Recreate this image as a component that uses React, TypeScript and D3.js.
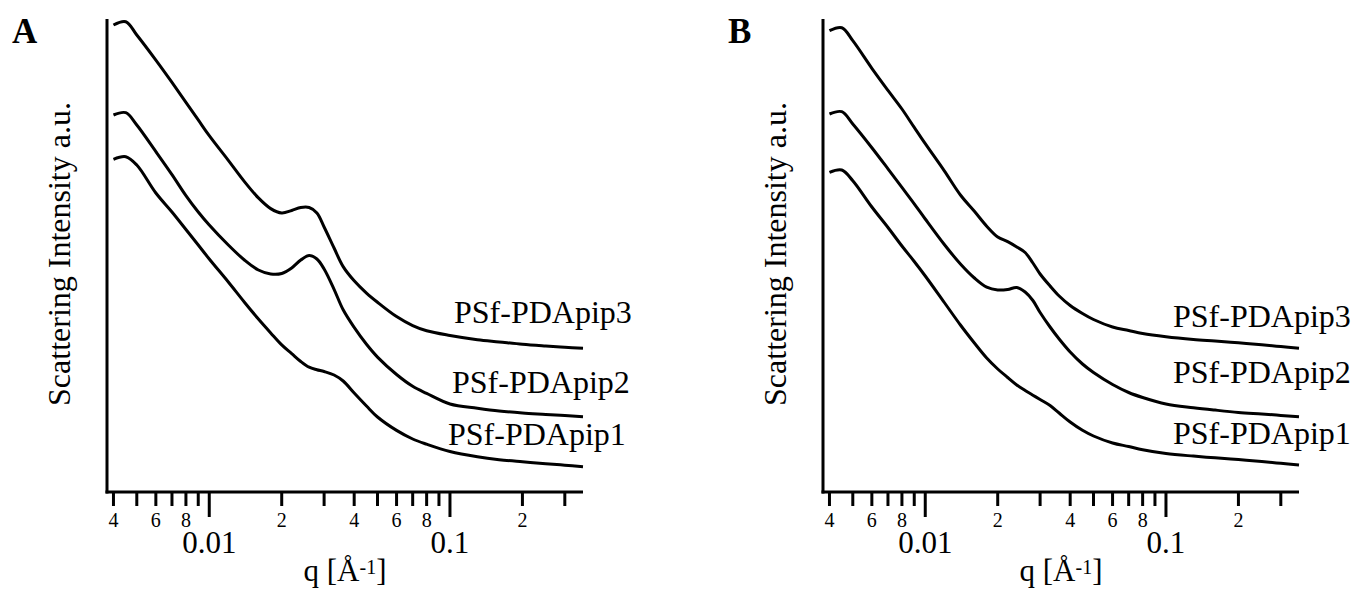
import React from 'react';
import * as d3 from 'd3';

// q grid [1/Å] shared by every curve
const Q = [
  0.004, 0.0045, 0.005, 0.006, 0.007, 0.008, 0.009, 0.01, 0.012, 0.014, 0.016,
  0.018, 0.02, 0.022, 0.024, 0.026, 0.028, 0.03, 0.033, 0.036, 0.04, 0.045,
  0.05, 0.06, 0.07, 0.08, 0.1, 0.13, 0.16, 0.2, 0.25, 0.3, 0.357,
];

// scattering intensity, arbitrary units (curves offset for clarity)
const A_PIP1 = [
  332.7, 335.3, 327, 299, 280, 262.5, 247, 233, 210, 189.8, 173, 159.1,
  147.1, 138.4, 130.5, 124.8, 122.3, 120.5, 117, 111, 99, 86, 75, 61.6,
  53, 47.8, 40.5, 35.2, 32.3, 30.2, 28.3, 26.8, 25.3,
];
const A_PIP2 = [
  377, 379.3, 367, 340.4, 317.4, 296.4, 280, 267, 247, 232, 222, 218,
  218.5, 224, 232, 236.5, 233, 223, 202.7, 182.2, 164.6, 147.7, 134.9, 117.5,
  105.7, 98.6, 88, 83.8, 81, 79, 77.6, 76.4, 75.3,
];
const A_PIP3 = [
  467, 470.3, 457, 431.9, 409.6, 389.7, 372.1, 356.3, 331.6, 310.4, 294.1,
  283.4, 279, 281.5, 284.5, 284.5, 279, 265, 244, 225.4, 211.2, 198.9, 189.7,
  175.4, 166.4, 161.2, 156.5, 152.3, 150.1, 147.7, 146, 144.8, 143.7,
];
const B_PIP1 = [
  319.7, 322, 311.3, 285, 264.5, 246, 230.5, 216, 189.5, 167, 149, 134,
  123, 114.5, 107, 101.5, 96.8, 92.5, 86.5, 79, 70, 61.7, 56, 49, 45.5, 42.3,
  38.5, 35.9, 34.2, 32.5, 30.5, 28.7, 27,
];
const B_PIP2 = [
  378, 380.3, 368, 344.3, 323.2, 304.6, 288.2, 273, 247.5, 228, 214, 204.8,
  202, 202.5, 204.5, 200, 191.5, 179.5, 165, 153, 140, 128, 119.5, 107.5,
  99.5, 94.5, 88, 84.3, 81.9, 79.6, 78, 76.6, 75.3,
];
const B_PIP3 = [
  461.3, 464.3, 451.3, 423.7, 401.6, 383, 364.6, 348.3, 321.1, 297, 280.7,
  265.8, 255, 250.3, 245, 239.5, 229, 218, 206, 196, 186.5, 178.5, 172.5,
  165, 161.5, 158.5, 155.3, 152.6, 151, 149.2, 147.2, 145.4, 143.7,
];

const SERIES_NAMES = ['PSf-PDApip1', 'PSf-PDApip2', 'PSf-PDApip3'];

const MAJOR_TICKS = [0.01, 0.1];
const MAJOR_LABELS = ['0.01', '0.1'];
const MINOR_TICKS = [
  0.004, 0.005, 0.006, 0.007, 0.008, 0.009, 0.02, 0.03, 0.04, 0.05, 0.06,
  0.07, 0.08, 0.09, 0.2, 0.3,
];
const MINOR_LABEL_TICKS = [0.004, 0.006, 0.008, 0.02, 0.04, 0.06, 0.08, 0.2];
const MINOR_LABELS = ['4', '6', '8', '2', '4', '6', '8', '2'];

const X_DOMAIN = [0.00376, 0.357];
const Y_DOMAIN = [0, 473];

const FONT = '"Liberation Serif", "Times New Roman", Times, serif';

type PanelProps = {
  letter: string;
  left: number;
  curves: number[][];
  labelX: number[];
  labelY: number[];
};

const Panel = ({ letter, left, curves, labelX, labelY }: PanelProps) => {
  const axisLeft = left + 107;
  const axisRight = left + 583;
  const top = 19;
  const bottom = 492;

  const x = d3.scaleLog().domain(X_DOMAIN).range([axisLeft, axisRight]);
  const y = d3.scaleLinear().domain(Y_DOMAIN).range([bottom, top]);

  const line = d3
    .line<number>()
    .x((_, i) => x(Q[i]))
    .y((d) => y(d))
    .curve(d3.curveCatmullRom.alpha(0.5));

  return (
    <g>
      <text x={left + 12} y={43} fontFamily={FONT} fontWeight="bold" fontSize={35}>
        {letter}
      </text>

      {curves.map((c, i) => (
        <path key={i} d={line(c) || ''} fill="none" stroke="#000" strokeWidth={3} strokeLinejoin="round" />
      ))}

      {SERIES_NAMES.map((name, i) => (
        <text key={name} x={labelX[i]} y={labelY[i]} fontFamily={FONT} fontSize={32}>
          {name}
        </text>
      ))}

      {/* axes */}
      <line x1={axisLeft} x2={axisLeft} y1={top} y2={bottom + 1.5} stroke="#000" strokeWidth={3} />
      <line x1={axisLeft - 1.5} x2={axisRight} y1={bottom} y2={bottom} stroke="#000" strokeWidth={3} />

      {MINOR_TICKS.map((t) => (
        <line key={t} x1={x(t)} x2={x(t)} y1={bottom} y2={bottom + 14} stroke="#000" strokeWidth={3} />
      ))}
      {MAJOR_TICKS.map((t) => (
        <line key={t} x1={x(t)} x2={x(t)} y1={bottom} y2={bottom + 25} stroke="#000" strokeWidth={3} />
      ))}
      {MINOR_LABEL_TICKS.map((t, i) => (
        <text key={t} x={x(t)} y={527} textAnchor="middle" fontFamily={FONT} fontSize={20}>
          {MINOR_LABELS[i]}
        </text>
      ))}
      {MAJOR_TICKS.map((t, i) => (
        <text key={t} x={x(t)} y={553} textAnchor="middle" fontFamily={FONT} fontSize={31}>
          {MAJOR_LABELS[i]}
        </text>
      ))}

      <text x={(axisLeft + axisRight) / 2} y={581} textAnchor="middle" fontFamily={FONT} fontSize={31}>
        <tspan>q [Å</tspan>
        <tspan dy={-7} fontSize={20}>-1</tspan>
        <tspan dy={7}>]</tspan>
      </text>

      <text
        transform={`translate(${left + 70},254) rotate(-90)`}
        textAnchor="middle"
        fontFamily={FONT}
        fontSize={32}
      >
        Scattering Intensity a.u.
      </text>
    </g>
  );
};

export default function App() {
  return (
    <svg
      width={1359}
      height={594}
      style={{ position: 'absolute', left: 0, top: 0, background: '#fff' }}
    >
      <rect width={1359} height={594} fill="#fff" />
      <Panel
        letter="A"
        left={0}
        curves={[A_PIP1, A_PIP2, A_PIP3]}
        labelX={[448, 452, 454]}
        labelY={[445, 393, 323]}
      />
      <Panel
        letter="B"
        left={716}
        curves={[B_PIP1, B_PIP2, B_PIP3]}
        labelX={[1173, 1173, 1173]}
        labelY={[444, 383, 327]}
      />
    </svg>
  );
}
